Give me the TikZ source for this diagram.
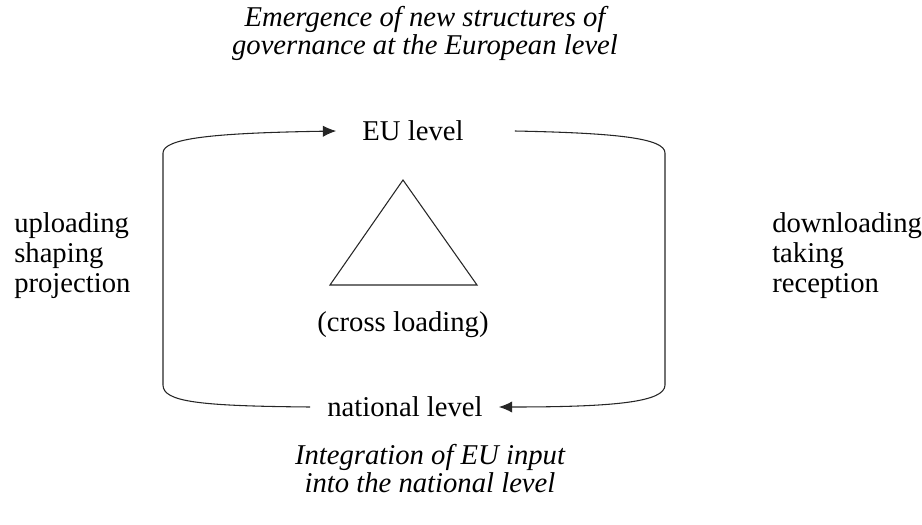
\documentclass[tikz,border=0pt]{standalone}
\usepackage{fontspec}
\setmainfont{Liberation Serif}
\usetikzlibrary{arrows.meta,calc}

\begin{document}
\begin{tikzpicture}[
    x=0.75pt, y=-0.75pt, >={Latex[length=10pt,width=8.5pt]},
    every node/.style={font=\fontsize{21.5}{22.5}\selectfont},
    level/.style={inner sep=0pt},
    note/.style={anchor=west, align=left, inner sep=0pt},
    caption/.style={align=center, inner sep=0pt, font=\fontsize{21.5}{21}\selectfont\itshape},
    loop line/.style={line width=0.8pt, draw=black!85}]
  \useasboundingbox (0,0) rectangle (922,525);
  \node[caption] (emerge) at (425,33) {Emergence of new structures of\\governance at the European level};
  \node[level] (eu) at (413,131) {EU level};
  \node[level] (nat) at (405,407) {national level};
  \node (cross) at (403,325) {(cross loading)};
  \node[note] (up) at (14,256) {uploading\\shaping\\projection};
  \node[note] (down) at (772,256) {downloading\\taking\\reception};
  \node[caption] (integ) at (430,469) {Integration of EU input\\into the national level};
  % triangle in the middle
  \draw[loop line] (403,180) -- (477,285) -- (330,285) -- cycle;
  % upward loop (left) and downward loop (right)
  \draw[loop line, ->] ($(nat.west)+(-17,0)$) .. controls (200,406) and (163,402) .. (163,385)
    -- (163,153) .. controls (163,138) and (215,133) .. ($(eu.west)+(-26,0)$);
  \draw[loop line, ->] ($(eu.east)+(51,0)$) .. controls (615,133) and (665,138) .. (665,153)
    -- (665,385) .. controls (665,402) and (615,407) .. ($(nat.east)+(16,0)$);
\end{tikzpicture}
\end{document}
